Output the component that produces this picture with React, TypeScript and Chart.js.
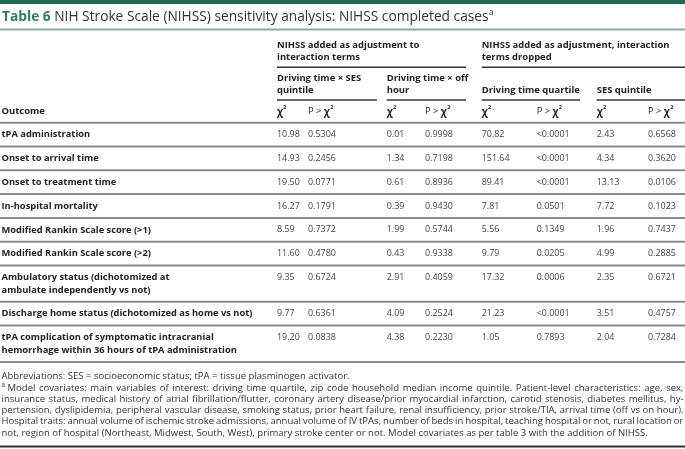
import React, { useEffect, useRef } from "react";
import { Chart, registerables } from "chart.js";
Chart.register(...registerables);

const W = 685;
const H = 449;

const TITLE_LABEL = "Table 6";
const TITLE_TEXT = " NIH Stroke Scale (NIHSS) sensitivity analysis: NIHSS completed cases";
const GROUP_HEADERS = [
  ["NIHSS added as adjustment to", "interaction terms"],
  ["NIHSS added as adjustment, interaction", "terms dropped"],
];
const SUB_HEADERS = [
  ["Driving time × SES", "quintile"],
  ["Driving time × off", "hour"],
  ["Driving time quartile"],
  ["SES quintile"],
];
const OUTCOME_HEADER = "Outcome";
const outcomes = [
  ["tPA administration"],
  ["Onset to arrival time"],
  ["Onset to treatment time"],
  ["In-hospital mortality"],
  ["Modified Rankin Scale score (>1)"],
  ["Modified Rankin Scale score (>2)"],
  ["Ambulatory status (dichotomized at", "ambulate independently vs not)"],
  ["Discharge home status (dichotomized as home vs not)"],
  ["tPA complication of symptomatic intracranial", "hemorrhage within 36 hours of tPA administration"],
];
const chi2SES = ["10.98", "14.93", "19.50", "16.27", "8.59", "11.60", "9.35", "9.77", "19.20"];
const pSES = ["0.5304", "0.2456", "0.0771", "0.1791", "0.7372", "0.4780", "0.6724", "0.6361", "0.0838"];
const chi2Off = ["0.01", "1.34", "0.61", "0.39", "1.99", "0.43", "2.91", "4.09", "4.38"];
const pOff = ["0.9998", "0.7198", "0.8936", "0.9430", "0.5744", "0.9338", "0.4059", "0.2524", "0.2230"];
const chi2Quartile = ["70.82", "151.64", "89.41", "7.81", "5.56", "9.79", "17.32", "21.23", "1.05"];
const pQuartile = ["<0.0001", "<0.0001", "<0.0001", "0.0501", "0.1349", "0.0205", "0.0006", "<0.0001", "0.7893"];
const chi2Quintile = ["2.43", "4.34", "13.13", "7.72", "1.96", "4.99", "2.35", "3.51", "2.04"];
const pQuintile = ["0.6568", "0.3620", "0.0106", "0.1023", "0.7437", "0.2885", "0.6721", "0.4757", "0.7284"];
const FOOT_ABBR = "Abbreviations: SES = socioeconomic status; tPA = tissue plasminogen activator.";
const FOOT_LINES = [
  "Model covariates: main variables of interest: driving time quartile, zip code household median income quintile. Patient-level characteristics: age, sex,",
  "insurance status, medical history of atrial fibrillation/flutter, coronary artery disease/prior myocardial infarction, carotid stenosis, diabetes mellitus, hy-",
  "pertension, dyslipidemia, peripheral vascular disease, smoking status, prior heart failure, renal insufficiency, prior stroke/TIA, arrival time (off vs on hour).",
  "Hospital traits: annual volume of ischemic stroke admissions, annual volume of IV tPAs, number of beds in hospital, teaching hospital or not, rural location or",
  "not, region of hospital (Northeast, Midwest, South, West), primary stroke center or not. Model covariates as per table 3 with the addition of NIHSS.",
];

// layout (style) constants
const FAMILY = '"Open Sans", "Noto Sans", sans-serif';
const COL_X = [277, 308, 386.7, 425, 481.7, 536.7, 596.7, 648];
const GROUP_SPAN = [[277, 466], [481.7, 685]];
const SUB_SPAN = [[277, 377], [386.7, 466], [481.7, 580], [596.7, 685]];
const ROW_TOP0 = 122.7;
const ROW_H = 23.8;
const LINE_H = 12.5;
const BOLD_W = "bold";

function fitSize(ctx: CanvasRenderingContext2D, text: string, weight: string, target: number) {
  ctx.font = `${weight} 10px ${FAMILY}`;
  const w = ctx.measureText(text).width;
  return (10 * target) / w;
}

const tablePlugin = {
  id: "tablePlugin",
  afterDraw(chart: any) {
    const ctx: CanvasRenderingContext2D = chart.ctx;
    const xs = chart.scales.x;
    const ys = chart.scales.y;
    const X = (v: number) => xs.getPixelForValue(v);
    const Y = (v: number) => ys.getPixelForValue(v);
    ctx.save();
    ctx.textBaseline = "middle";
    ctx.textAlign = "left";

    const hline = (x0: number, x1: number, y: number, color: string, lw: number) => {
      ctx.strokeStyle = color;
      ctx.lineWidth = lw;
      ctx.beginPath();
      ctx.moveTo(X(x0), Y(y));
      ctx.lineTo(X(x1), Y(y));
      ctx.stroke();
    };

    const boldSize = fitSize(ctx, outcomes[7][0], BOLD_W, 251);
    const headSize = fitSize(ctx, GROUP_HEADERS[1][0], BOLD_W, 188);
    const numSize = fitSize(ctx, "<0.0001", "normal", 33);
    const BOLD = `${BOLD_W} ${boldSize.toFixed(2)}px ${FAMILY}`;
    const HEAD = `${BOLD_W} ${headSize.toFixed(2)}px ${FAMILY}`;
    const NUM = `normal ${numSize.toFixed(2)}px ${FAMILY}`;

    // top bar
    ctx.fillStyle = "#1f6b4f";
    ctx.fillRect(X(0), Y(0), X(W) - X(0), Y(4) - Y(0));

    // title
    ctx.font = `bold 10px ${FAMILY}`;
    const wl = ctx.measureText(TITLE_LABEL).width;
    ctx.font = `normal 10px ${FAMILY}`;
    const wr = ctx.measureText(TITLE_TEXT).width;
    const ts = (10 * 487) / (wl + wr);
    ctx.font = `bold ${ts}px ${FAMILY}`;
    ctx.fillStyle = "#2e7d5b";
    ctx.fillText(TITLE_LABEL, X(2), Y(17));
    let tx = X(2) + ctx.measureText(TITLE_LABEL).width;
    ctx.font = `normal ${ts}px ${FAMILY}`;
    ctx.fillStyle = "#333";
    ctx.fillText(TITLE_TEXT, tx, Y(17));
    tx += ctx.measureText(TITLE_TEXT).width;
    ctx.font = `normal ${ts * 0.6}px ${FAMILY}`;
    ctx.fillText("a", tx + 0.5, Y(13));

    hline(0, W, 29.5, "#86aa9c", 2);

    // group headers
    ctx.font = HEAD;
    ctx.fillStyle = "#222";
    GROUP_HEADERS.forEach((lines, i) => {
      lines.forEach((t, j) => ctx.fillText(t, X(GROUP_SPAN[i][0]), Y(45 + j * LINE_H)));
      hline(GROUP_SPAN[i][0], GROUP_SPAN[i][1], 67.3, "#333", 1.5);
    });
    SUB_HEADERS.forEach((lines, i) => {
      const y0 = lines.length === 2 ? 78.3 : 90;
      lines.forEach((t, j) => ctx.fillText(t, X(SUB_SPAN[i][0]), Y(y0 + j * LINE_H)));
      hline(SUB_SPAN[i][0], SUB_SPAN[i][1], 100, "#333", 1.5);
    });

    // column headers
    ctx.fillText(OUTCOME_HEADER, X(1.5), Y(111.5));
    const chiSize = numSize * 1.05;
    const drawChi = (x: number, prefix: string) => {
      let cx = X(x);
      ctx.font = `normal ${chiSize}px ${FAMILY}`;
      ctx.fillStyle = "#222";
      if (prefix) {
        ctx.fillText(prefix, cx, Y(111.5));
        cx += ctx.measureText(prefix).width;
      }
      ctx.font = `bold ${chiSize * 1.08}px ${FAMILY}`;
      ctx.fillText("χ", cx, Y(112));
      cx += ctx.measureText("χ").width;
      ctx.font = `bold ${chiSize * 0.6}px ${FAMILY}`;
      ctx.fillText("2", cx + 0.3, Y(107.5));
    };
    for (let c = 0; c < 4; c++) {
      drawChi(COL_X[c * 2], "");
      drawChi(COL_X[c * 2 + 1], "P > ");
    }
    hline(0, W, ROW_TOP0, "#8a8a8a", 2);

    // body
    const cols = [chi2SES, pSES, chi2Off, pOff, chi2Quartile, pQuartile, chi2Quintile, pQuintile];
    let top = ROW_TOP0;
    outcomes.forEach((lines, r) => {
      const yc = top + 12;
      ctx.font = BOLD;
      ctx.fillStyle = "#222";
      lines.forEach((t, j) => ctx.fillText(t, X(1.5), Y(yc + j * LINE_H)));
      ctx.font = NUM;
      ctx.fillStyle = "#444";
      cols.forEach((arr, c) => ctx.fillText(arr[r], X(COL_X[c]), Y(yc)));
      top += ROW_H + (lines.length - 1) * LINE_H;
      hline(0, W, top, "#8a8a8a", 2);
    });

    // footnotes
    const footSize = fitSize(ctx, FOOT_LINES[4], "normal", 649 - 1.5);
    const FOOT = `normal ${footSize}px ${FAMILY}`;
    ctx.font = FOOT;
    ctx.fillStyle = "#333";
    ctx.fillText(FOOT_ABBR, X(1.5), Y(376.5));
    const justify = (text: string, x0: number, x1: number, y: number, just: boolean) => {
      const words = text.split(" ");
      const ws = words.map((w) => ctx.measureText(w).width);
      const sum = ws.reduce((a, b) => a + b, 0);
      const gap = just ? (X(x1) - X(x0) - sum) / (words.length - 1) : ctx.measureText(" ").width;
      let cx = X(x0);
      words.forEach((w, i) => {
        ctx.fillText(w, cx, Y(y));
        cx += ws[i] + gap;
      });
    };
    FOOT_LINES.forEach((t, i) => {
      const y = 388 + i * 11.2;
      if (i === 0) {
        ctx.font = `normal ${footSize * 0.65}px ${FAMILY}`;
        ctx.fillText("a", X(1.5), Y(y - 3));
        ctx.font = FOOT;
        justify(t, 7.5, 683.5, y, true);
      } else {
        justify(t, 1.5, 683.5, y, i < FOOT_LINES.length - 1);
      }
    });

    hline(0, W, 446.5, "#333", 2);
    ctx.restore();
  },
};

export default function App() {
  const ref = useRef<HTMLCanvasElement | null>(null);
  useEffect(() => {
    if (!ref.current) return;
    const chart = new Chart(ref.current, {
      type: "scatter",
      data: { datasets: [] },
      options: {
        animation: false,
        responsive: false,
        devicePixelRatio: 1,
        layout: { padding: 0 },
        plugins: { legend: { display: false }, tooltip: { enabled: false } },
        scales: {
          x: { type: "linear", min: 0, max: W, display: false },
          y: { type: "linear", min: 0, max: H, reverse: true, display: false },
        },
      },
      plugins: [tablePlugin],
    });
    return () => chart.destroy();
  }, []);
  return (
    <div style={{ position: "fixed", left: 0, top: 0, width: W, height: H, background: "#fff" }}>
      <canvas ref={ref} width={W} height={H} style={{ width: W, height: H, display: "block" }} />
    </div>
  );
}
